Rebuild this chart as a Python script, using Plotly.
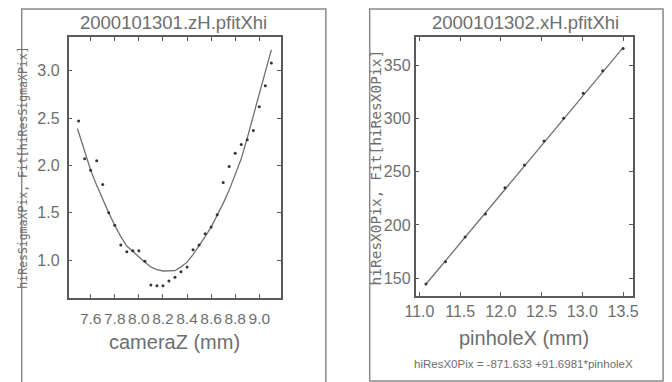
import plotly.graph_objects as go

W, H = 672, 382

# ---------- left panel data ----------
camz = [7.50, 7.55, 7.60, 7.65, 7.70, 7.75, 7.80, 7.85, 7.90, 7.95, 8.00,
        8.05, 8.10, 8.15, 8.20, 8.25, 8.30, 8.35, 8.40, 8.45, 8.50, 8.55,
        8.60, 8.65, 8.70, 8.75, 8.80, 8.85, 8.90, 8.95, 9.00, 9.05, 9.10]
sigma = [2.47, 2.07, 1.95, 2.05, 1.80, 1.50, 1.37, 1.16, 1.09, 1.10, 1.10,
         0.99, 0.74, 0.73, 0.73, 0.78, 0.82, 0.88, 0.93, 1.11, 1.16, 1.28,
         1.35, 1.48, 1.82, 1.99, 2.13, 2.22, 2.27, 2.37, 2.62, 2.84, 3.08]
fit_z = [7.49, 7.55, 7.60, 7.65, 7.70, 7.75, 7.80, 7.85, 7.90, 7.95, 8.00,
         8.05, 8.10, 8.15, 8.20, 8.28, 8.30, 8.35, 8.40, 8.45, 8.50, 8.55,
         8.60, 8.65, 8.70, 8.75, 8.80, 8.85, 8.90, 8.95, 9.00, 9.05, 9.10]
fit_sigma = [2.39, 2.15, 1.95, 1.79, 1.64, 1.50, 1.37, 1.25, 1.15, 1.09, 1.03,
             0.98, 0.93, 0.90, 0.887, 0.887, 0.89, 0.93, 0.98, 1.06, 1.15, 1.25,
             1.35, 1.47, 1.60, 1.74, 1.90, 2.07, 2.29, 2.52, 2.75, 2.98, 3.22]
left_xticks = [7.6, 7.8, 8.0, 8.2, 8.4, 8.6, 8.8, 9.0]
left_xtext = ["7.6", "7.8", "8.0", "8.2", "8.4", "8.6", "8.8", "9.0"]
left_yticks = [1.0, 1.5, 2.0, 2.5, 3.0]
left_ytext = ["1.0", "1.5", "2.0", "2.5", "3.0"]

# ---------- right panel data ----------
pinx = [11.08, 11.32, 11.56, 11.81, 12.05, 12.29, 12.53, 12.77, 13.01, 13.25, 13.50]
x0pix = [144.7, 165.6, 188.7, 210.3, 235.0, 256.2, 278.7, 300.0, 323.5, 344.6, 365.6]
fit_x = [11.08, 13.50]
fit_x0pix = [144.4, 366.3]
right_xticks = [11.0, 11.5, 12.0, 12.5, 13.0, 13.5]
right_xtext = ["11.0", "11.5", "12.0", "12.5", "13.0", "13.5"]
right_yticks = [150, 200, 250, 300, 350]
right_ytext = ["150", "200", "250", "300", "350"]

FONT = "Liberation Sans, Arial, sans-serif"
MONO = "DejaVu Sans Mono, Liberation Mono, monospace"
TXT = "#6e6e6e"
AX = "#5a5a5a"

fig = go.Figure()
fig.add_trace(go.Scatter(x=fit_z, y=fit_sigma, mode="lines",
                         line=dict(color="#707070", width=1.3),
                         xaxis="x", yaxis="y", showlegend=False))
fig.add_trace(go.Scatter(x=camz, y=sigma, mode="markers",
                         marker=dict(color="#333333", size=3),
                         xaxis="x", yaxis="y", showlegend=False))
fig.add_trace(go.Scatter(x=fit_x, y=fit_x0pix, mode="lines",
                         line=dict(color="#707070", width=1.3),
                         xaxis="x2", yaxis="y2", showlegend=False))
fig.add_trace(go.Scatter(x=pinx, y=x0pix, mode="markers",
                         marker=dict(color="#333333", size=3),
                         xaxis="x2", yaxis="y2", showlegend=False))

def px_x(p):
    return p / W

def px_y(p):
    return 1 - p / H

def axis_common(size):
    return dict(showgrid=False, zeroline=False, ticks="inside", ticklen=4,
                tickwidth=1.2, tickcolor=AX, showline=True, linecolor=AX,
                linewidth=1.5, mirror="ticks", tickangle=0,
                tickfont=dict(family=FONT, size=size, color=TXT))

fig.update_layout(
    width=W, height=H, margin=dict(l=0, r=0, t=0, b=0),
    paper_bgcolor="white", plot_bgcolor="white",
    xaxis=dict(domain=[px_x(59), px_x(277)], range=[7.416, 9.18],
               tickvals=left_xticks, ticktext=left_xtext, anchor="y",
               ticklabelstandoff=6, **axis_common(15.5)),
    yaxis=dict(domain=[px_y(298), px_y(37)], range=[0.602, 3.355],
               tickvals=left_yticks, ticktext=left_ytext, anchor="x",
               ticklabelstandoff=4, **axis_common(16)),
    xaxis2=dict(domain=[px_x(415), px_x(637.7)], range=[10.952, 13.616],
                tickvals=right_xticks, ticktext=right_xtext, anchor="y2",
                **axis_common(16)),
    yaxis2=dict(domain=[px_y(296), px_y(37.3)], range=[133.4, 376],
                tickvals=right_yticks, ticktext=right_ytext, anchor="x2",
                **axis_common(16)),
)

# panel frames
fig.add_shape(type="rect", xref="paper", yref="paper",
              x0=px_x(11), x1=px_x(323), y0=px_y(386), y1=px_y(9),
              line=dict(color="#8a8a8a", width=1.5))
fig.add_shape(type="rect", xref="paper", yref="paper",
              x0=px_x(368), x1=px_x(669), y0=px_y(381), y1=px_y(9),
              line=dict(color="#8a8a8a", width=1.5))

def text(x, y, s, size, family=FONT, angle=0, color=TXT):
    fig.add_annotation(x=px_x(x), y=px_y(y), xref="paper", yref="paper",
                       text=s, showarrow=False, textangle=angle,
                       xanchor="center", yanchor="middle",
                       font=dict(family=family, size=size, color=color))

text(167, 23, "2000101301.zH.pfitXhi", 18.5)
text(528, 23, "2000101302.xH.pfitXhi", 18.5)
text(168, 342, "cameraZ (mm)", 20)
text(526, 338, "pinholeX (mm)", 20)
text(526, 364, "hiResX0Pix = -871.633 +91.6981*pinholeX", 11.5)
text(12, 168, "hiResSigmaXPix, Fit[hiResSigmaXPix]", 11.5, family=MONO, angle=-90)
text(374, 168, "hiResX0Pix, Fit[hiResX0Pix]", 14.5, family=MONO, angle=-90)

fig.write_html("out.html")
